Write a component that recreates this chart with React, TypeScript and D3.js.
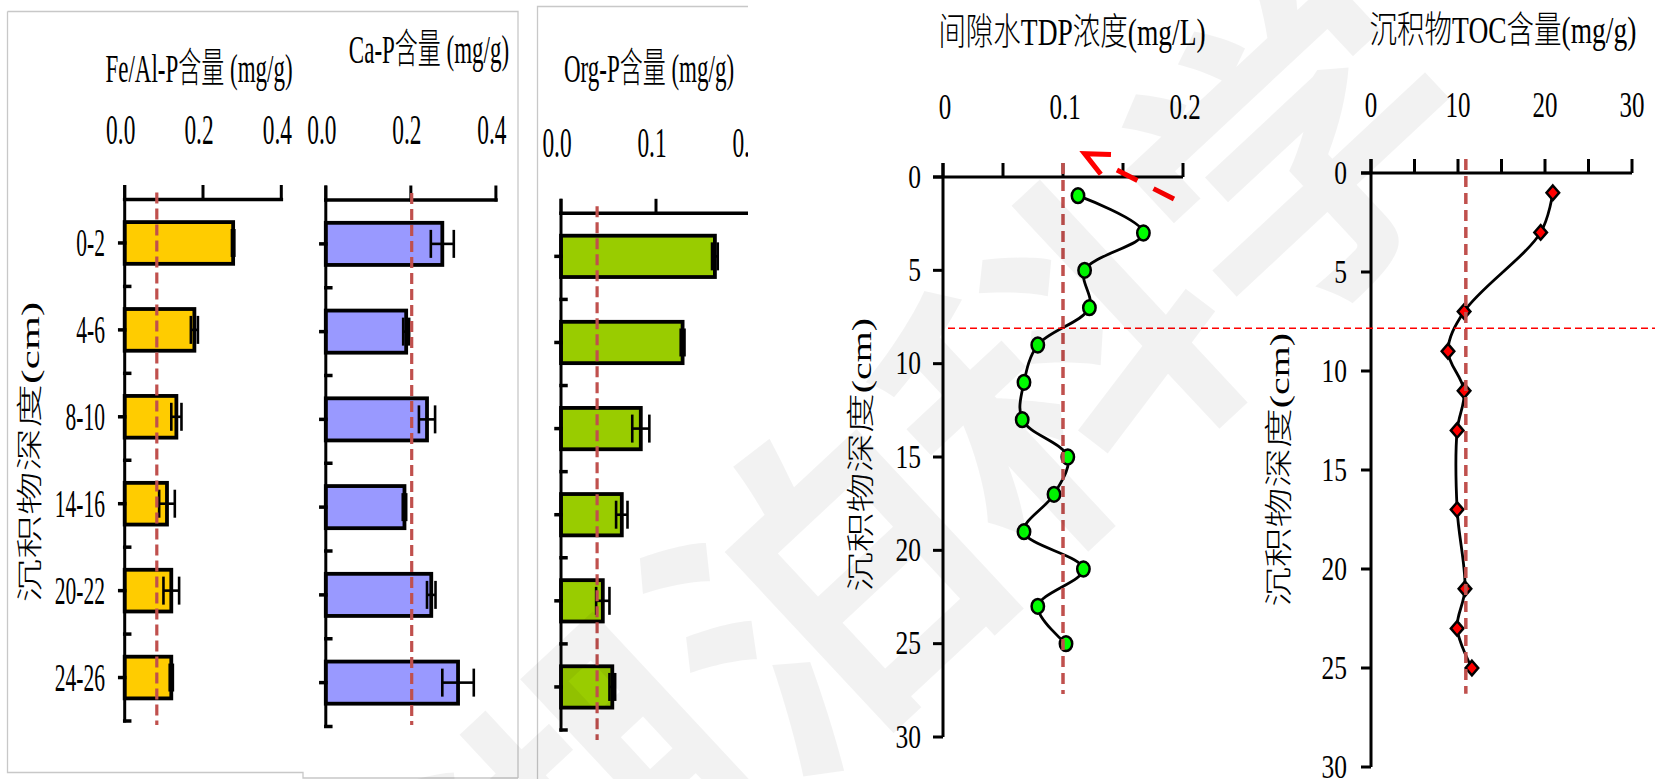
import React from "react";
import * as d3 from "d3";

// ---------- data ----------
const depthClasses = ["0-2", "4-6", "8-10", "14-16", "20-22", "24-26"];

const feAlP = [0.277, 0.178, 0.132, 0.108, 0.119, 0.119];
const feAlPErr = [0.003, 0.009, 0.013, 0.02, 0.02, 0.004];
const feAlPRef = 0.082;
const feAlPTicks = [0, 0.2, 0.4];

const caP = [0.274, 0.189, 0.238, 0.185, 0.248, 0.311];
const caPErr = [0.027, 0.007, 0.019, 0.004, 0.01, 0.037];
const caPRef = 0.202;
const caPTicks = [0, 0.2, 0.4];

const orgP = [0.162, 0.128, 0.084, 0.064, 0.044, 0.054];
const orgPErr = [0.003, 0.002, 0.009, 0.006, 0.007, 0.003];
const orgPRef = 0.038;
const orgPTicks = [0, 0.1, 0.2];

const tdpDepth = [1, 3, 5, 7, 9, 11, 13, 15, 17, 19, 21, 23, 25];
const tdpValue = [0.1125, 0.167, 0.118, 0.122, 0.079, 0.0675, 0.066, 0.104, 0.0925, 0.0675, 0.117, 0.079, 0.1025];
const tdpRef = 0.1;
const tdpRefEnd = 27.7;
const tdpTicks = [0, 0.1, 0.2];
const tdpMinorTicks = [0, 0.05, 0.1, 0.15, 0.2];

const tocDepth = [1, 3, 7, 9, 11, 13, 17, 21, 23, 25];
const tocValue = [20.9, 19.5, 10.7, 8.85, 10.7, 9.9, 9.9, 10.8, 9.9, 11.6];
const tocRef = 10.9;
const tocRefEnd = 26.3;
const tocTicks = [0, 10, 20, 30];
const tocMinorTicks = [0, 5, 10, 15, 20, 25, 30];

const depthTicks = [0, 5, 10, 15, 20, 25, 30];
const boundaryDepth = 8.1;

// arrow annotation in TDP units: [value, depth]
const arrowTail: [number, number] = [0.1925, 1.18];
const arrowTip: [number, number] = [0.118, -1.25];
const arrowArmUpper: [number, number] = [0.14, -1.2];
const arrowArmLower: [number, number] = [0.1315, -0.15];

// ---------- helpers ----------
const SERIF = "'Liberation Serif','Times New Roman','Noto Sans CJK SC',serif";
const REF_RED = "#C0504D";

function SText({ x, y, size, sy, anchor = "middle", rotate = false, children }: any) {
  const tr = `translate(${x},${y}) scale(1,${sy})${rotate ? " rotate(-90)" : ""}`;
  return (
    <text
      transform={tr}
      fontSize={size}
      fontWeight={300}
      textAnchor={anchor}
      fontFamily={SERIF}
      dominantBaseline={rotate ? "central" : undefined}
      fill="#000"
    >
      {children}
    </text>
  );
}

function BarPanel(p: any) {
  const x = d3.scaleLinear().domain([0, p.max]).range([p.x0, p.x1]);
  const y = d3
    .scaleBand<string>()
    .domain(depthClasses)
    .range([p.axisY, p.bandBottom])
    .paddingInner(0.52)
    .paddingOuter(0.26);
  const step = y.step();
  const bw = y.bandwidth();
  const fmt = d3.format(".1f");
  const tickTop = p.axisY - 13;
  const boundaries = d3.range(1, depthClasses.length + 1).map((k) => p.axisY + k * step);
  const capH = 28;

  return (
    <g clipPath={p.clip ? `url(#${p.clip})` : undefined}>
      <SText x={p.titleX} y={p.titleY} size={23} sy={1.76}>
        {p.title}
      </SText>
      {p.ticks.map((t: number) => (
        <SText key={"tl" + t} x={x(t) - 4} y={p.tickLabelY} size={23.4} sy={1.76}>
          {fmt(t)}
        </SText>
      ))}
      {p.showCategories &&
        depthClasses.map((c) => (
          <SText key={"cl" + c} x={p.categoryX} y={(y(c) as number) + bw / 2 + 13.5} size={21.5} sy={1.85} anchor="end">
            {c}
          </SText>
        ))}
      {/* bars */}
      {depthClasses.map((c, i) => (
        <rect
          key={"b" + c}
          x={x(0)}
          y={y(c)}
          width={x(p.values[i]) - x(0)}
          height={bw}
          fill={p.fill}
          stroke="#000"
          strokeWidth={3.8}
        />
      ))}
      {/* error bars */}
      {depthClasses.map((c, i) => {
        const cy = (y(c) as number) + bw / 2;
        const lo = x(p.values[i] - p.errors[i]);
        const hi = x(p.values[i] + p.errors[i]);
        return (
          <g key={"e" + c} stroke="#000" strokeWidth={2.6} fill="none">
            <line x1={lo} x2={hi} y1={cy} y2={cy} />
            <line x1={lo} x2={lo} y1={cy - capH / 2} y2={cy + capH / 2} />
            <line x1={hi} x2={hi} y1={cy - capH / 2} y2={cy + capH / 2} />
          </g>
        );
      })}
      {/* axes */}
      <g stroke="#000" fill="none" strokeLinecap="square">
        <line x1={x(0)} x2={x(p.max)} y1={p.axisY} y2={p.axisY} strokeWidth={3.6} />
        {p.ticks.map((t: number) => (
          <line key={"xt" + t} x1={x(t)} x2={x(t)} y1={tickTop} y2={p.axisY} strokeWidth={3} />
        ))}
        <line x1={x(0)} x2={x(0)} y1={tickTop} y2={p.bandBottom} strokeWidth={3} />
        {depthClasses.map((c) => {
          const cy = (y(c) as number) + bw / 2;
          return <line key={"ct" + c} x1={x(0) - 5} x2={x(0)} y1={cy} y2={cy} strokeWidth={3.5} />;
        })}
        {boundaries.map((b, k) => (
          <line key={"bt" + k} x1={x(0)} x2={x(0) + 5} y1={b} y2={b} strokeWidth={3.5} />
        ))}
      </g>
      {/* reference line */}
      <line
        x1={x(p.refValue)}
        x2={x(p.refValue)}
        y1={p.axisY - 7}
        y2={p.refBottom}
        stroke={REF_RED}
        strokeWidth={3.2}
        strokeDasharray="11 5"
      />
    </g>
  );
}

function ProfilePanel(p: any) {
  const x = d3.scaleLinear().domain([0, p.max]).range([p.x0, p.x1]);
  const y = d3.scaleLinear().domain([0, 30]).range([p.y0, p.y1]);
  const pts: [number, number][] = p.depths.map((d: number, i: number) => [x(p.values[i]), y(d)]);
  const line = d3.line().curve(d3.curveCatmullRom.alpha(0.5))(pts) || "";
  const tickTop = p.y0 - 14;
  const diamond = (cx: number, cy: number) => `M${cx},${cy - 7.3}L${cx + 6.3},${cy}L${cx},${cy + 7.3}L${cx - 6.3},${cy}Z`;

  return (
    <g>
      <SText x={p.titleX} y={p.titleY} size={27.5} sy={1.36}>
        {p.title}
      </SText>
      {p.ticks.map((t: number) => (
        <SText key={"xl" + t} x={x(t) + p.tickLabelDx} y={p.tickLabelY} size={25} sy={1.42}>
          {p.fmt(t)}
        </SText>
      ))}
      {depthTicks.map((d) => (
        <SText key={"yl" + d} x={p.yLabelRight} y={y(d) + 10.5} size={25.5} sy={1.36} anchor="end">
          {d}
        </SText>
      ))}
      <SText x={p.axisLabelX} y={p.axisLabelY} size={28} sy={1.42} rotate>
        沉积物深度(cm)
      </SText>
      <g stroke="#000" fill="none">
        <line x1={p.x0 - 10} x2={x(p.max)} y1={p.y0} y2={p.y0} strokeWidth={3} />
        {p.minorTicks.map((t: number) => (
          <line key={"xt" + t} x1={x(t)} x2={x(t)} y1={tickTop} y2={p.y0} strokeWidth={3} />
        ))}
        <line x1={p.x0} x2={p.x0} y1={tickTop} y2={p.y1} strokeWidth={3} />
        {depthTicks.map((d) => (
          <line key={"yt" + d} x1={p.x0 - 10} x2={p.x0} y1={y(d)} y2={y(d)} strokeWidth={3} />
        ))}
      </g>
      <path d={line} fill="none" stroke="#000" strokeWidth={2.8} />
      {pts.map(([cx, cy], i) =>
        p.marker === "circle" ? (
          <ellipse key={"m" + i} cx={cx} cy={cy} rx={6.2} ry={7.4} fill="#00FF00" stroke="#000" strokeWidth={2.5} />
        ) : (
          <path key={"m" + i} d={diamond(cx, cy)} fill="#FF0000" stroke="#000" strokeWidth={2.5} strokeLinejoin="miter" />
        )
      )}
      <line
        x1={x(p.refValue)}
        x2={x(p.refValue)}
        y1={tickTop}
        y2={y(p.refEnd)}
        stroke={REF_RED}
        strokeWidth={3.5}
        strokeDasharray="11 6"
      />
    </g>
  );
}

export default function App() {
  const tdpX = d3.scaleLinear().domain([0, 0.2]).range([943, 1183]);
  const tdpY = d3.scaleLinear().domain([0, 30]).range([177, 737]);
  const yBoundary = tdpY(boundaryDepth);
  const tail = [tdpX(arrowTail[0]), tdpY(arrowTail[1])];
  const tip = [tdpX(arrowTip[0]), tdpY(arrowTip[1])];
  const armU = [tdpX(arrowArmUpper[0]), tdpY(arrowArmUpper[1])];
  const armL = [tdpX(arrowArmLower[0]), tdpY(arrowArmLower[1])];
  // shaft stops a little short of the head
  const shaftEnd = [tip[0] + (tail[0] - tip[0]) * 0.2, tip[1] + (tail[1] - tip[1]) * 0.2];

  return (
    <svg
      width={1655}
      height={779}
      viewBox="0 0 1655 779"
      style={{ position: "absolute", left: 0, top: 0, display: "block", background: "#fff" }}
    >
      <defs>
        <clipPath id="orgClip">
          <rect x={537} y={0} width={211} height={779} />
        </clipPath>
      </defs>
      <rect width={1655} height={779} fill="#fff" />

      {/* frames around the bar panels */}
      <path
        d="M7.5,11.5 H518 V778 M7.5,11.5 V772.5 H303 V778 H518"
        fill="none"
        stroke="#c8c8c8"
        strokeWidth={1.3}
      />
      <path d="M537.5,779 V6.5 H748" fill="none" stroke="#c8c8c8" strokeWidth={1.3} />

      <BarPanel
        values={feAlP}
        errors={feAlPErr}
        refValue={feAlPRef}
        ticks={feAlPTicks}
        max={0.4}
        fill="#FFCC00"
        x0={124.7}
        x1={281.3}
        axisY={199.5}
        bandBottom={721}
        refBottom={725}
        title="Fe/Al-P含量 (mg/g)"
        titleX={199}
        titleY={82}
        tickLabelY={144}
        showCategories
        categoryX={105}
      />
      <BarPanel
        values={caP}
        errors={caPErr}
        refValue={caPRef}
        ticks={caPTicks}
        max={0.4}
        fill="#9999FF"
        x0={325.8}
        x1={495.9}
        axisY={200}
        bandBottom={726.5}
        refBottom={725}
        title="Ca-P含量 (mg/g)"
        titleX={429}
        titleY={63}
        tickLabelY={144}
      />
      <BarPanel
        values={orgP}
        errors={orgPErr}
        refValue={orgPRef}
        ticks={orgPTicks}
        max={0.2}
        fill="#99CC00"
        x0={561}
        x1={751}
        axisY={213.3}
        bandBottom={730}
        refBottom={740}
        title="Org-P含量 (mg/g)"
        titleX={649}
        titleY={82}
        tickLabelY={157}
        clip="orgClip"
      />

      <SText x={30} y={452} size={26} sy={1.68} rotate>
        沉积物深度(cm)
      </SText>

      <ProfilePanel
        values={tdpValue}
        depths={tdpDepth}
        refValue={tdpRef}
        refEnd={tdpRefEnd}
        ticks={tdpTicks}
        minorTicks={tdpMinorTicks}
        max={0.2}
        x0={943}
        x1={1183}
        y0={177}
        y1={737}
        fmt={d3.format("~g")}
        marker="circle"
        title="间隙水TDP浓度(mg/L)"
        titleX={1072}
        titleY={45}
        tickLabelY={119}
        tickLabelDx={2}
        yLabelRight={921}
        axisLabelX={861}
        axisLabelY={455}
      />
      <ProfilePanel
        values={tocValue}
        depths={tocDepth}
        refValue={tocRef}
        refEnd={tocRefEnd}
        ticks={tocTicks}
        minorTicks={tocMinorTicks}
        max={30}
        x0={1371}
        x1={1632}
        y0={173}
        y1={767}
        fmt={d3.format("d")}
        marker="diamond"
        title="沉积物TOC含量(mg/g)"
        titleX={1503}
        titleY={43}
        tickLabelY={117}
        tickLabelDx={0}
        yLabelRight={1347}
        axisLabelX={1279}
        axisLabelY={470}
      />

      {/* boundary line across both profiles */}
      <line x1={948} x2={1655} y1={yBoundary} y2={yBoundary} stroke="#FF0000" strokeWidth={1.5} strokeDasharray="7 4" />

      {/* arrow */}
      <line
        x1={tail[0]}
        y1={tail[1]}
        x2={shaftEnd[0]}
        y2={shaftEnd[1]}
        stroke="#FF0000"
        strokeWidth={5}
        strokeDasharray="23 18"
      />
      <path
        d={`M${armU[0]},${armU[1]} L${tip[0]},${tip[1]} L${armL[0]},${armL[1]}`}
        fill="none"
        stroke="#FF0000"
        strokeWidth={5}
      />

      {/* journal watermark */}
      <text
        transform="translate(928,468) rotate(-43)"
        fontSize={325}
        fontWeight={700}
        fontFamily="'Noto Sans CJK SC',sans-serif"
        textAnchor="middle"
        dominantBaseline="central"
        fill="#000"
        fillOpacity={0.05}
      >
        湖泊科学
      </text>
    </svg>
  );
}
